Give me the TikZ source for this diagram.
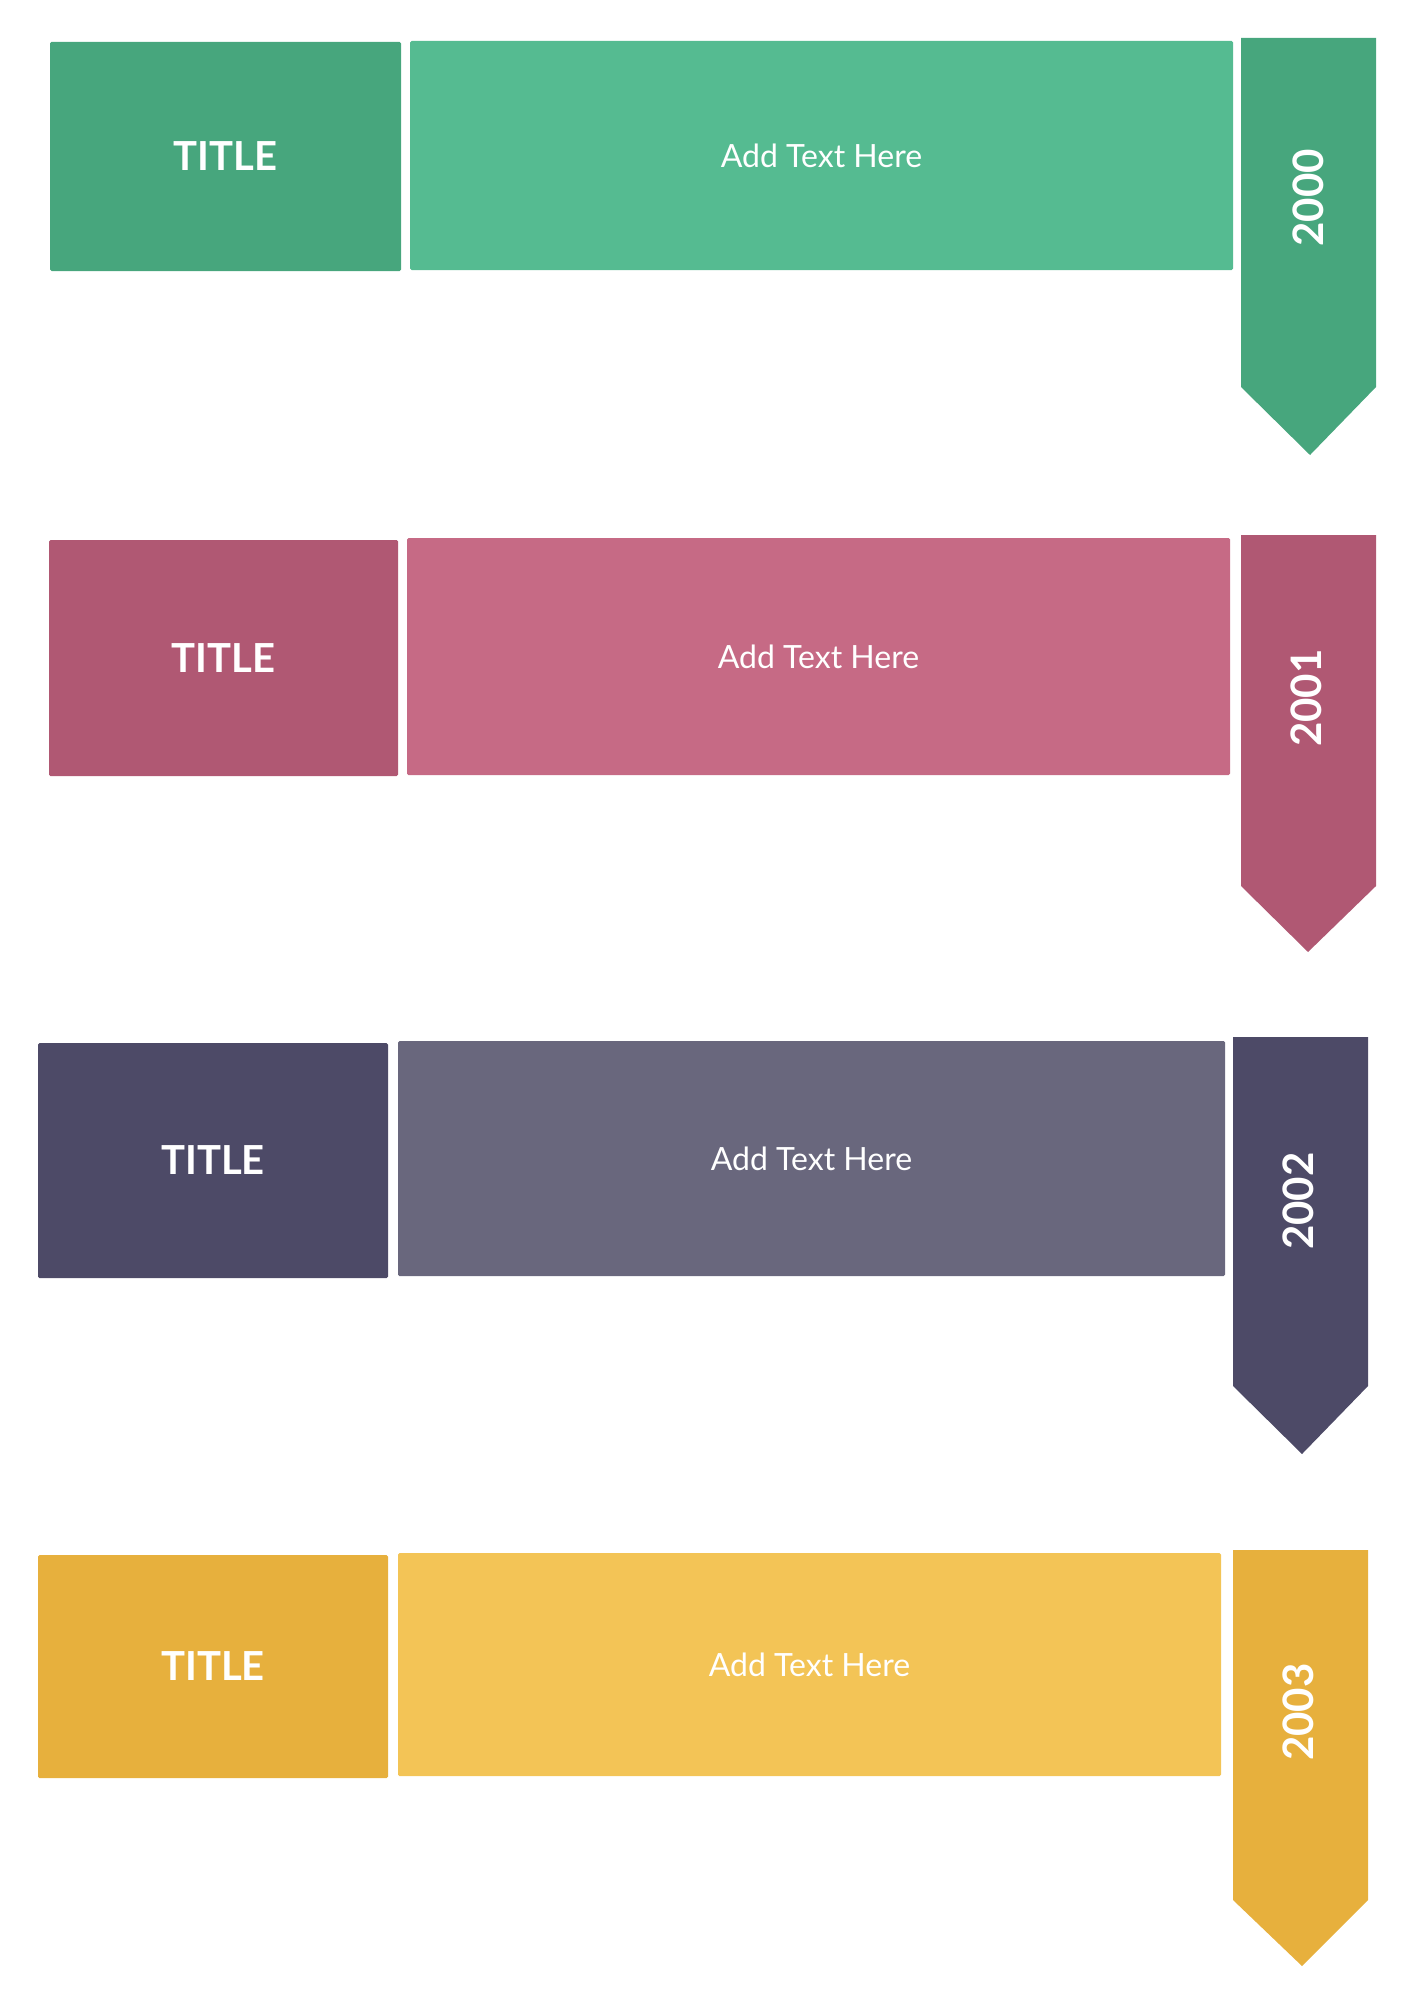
\documentclass[tikz,border=0pt]{standalone}
\usepackage{fontspec}
\setmainfont{Lato}
\begin{document}
\begin{tikzpicture}[x=1pt,y=-1pt,
  boxa/.style={inner sep=0pt,font=\fontsize{40}{44}\selectfont\bfseries,text=white},
  boxb/.style={inner sep=0pt,font=\fontsize{32}{36}\selectfont,text=white},
  yr/.style={rotate=90,font=\fontsize{42}{46}\selectfont\bfseries,text=white}]
\useasboundingbox (0,0) rectangle (1421,2009);
\definecolor{gA}{HTML}{47A67D}\definecolor{gB}{HTML}{55BB91}
\definecolor{pA}{HTML}{B05873}\definecolor{pB}{HTML}{C66A85}
\definecolor{uA}{HTML}{4D4A67}\definecolor{uB}{HTML}{69677D}
\definecolor{yA}{HTML}{E7B03D}\definecolor{yB}{HTML}{F3C456}
% #1 dark #2 light, title box x1 x2 y1 y2, text box x1 x2 y1 y2, arrow x1 x2 top bottom tip, year, yearY, name
\newcommand\myrow[6]{%
}
% Row 1
\fill[gA,rounded corners=1.5] (50,42) rectangle (401,271);
\node[boxa] (t1) at (225.5,156.5) {TITLE};
\fill[gB,rounded corners=1.5] (410,41) rectangle (1233,270);
\node[boxb] (x1) at (821.5,155.5) {Add Text Here};
\fill[gA] (1241,38) -- (1376,38) -- (1376,387) -- (1310,455) -- (1241,387) -- cycle;
\node[yr] (y1) at (1308,198) {2000};
% Row 2
\fill[pA,rounded corners=1.5] (49,540) rectangle (398,776);
\node[boxa] (t2) at (223.5,658) {TITLE};
\fill[pB,rounded corners=1.5] (407,538) rectangle (1230,775);
\node[boxb] (x2) at (818.5,656.5) {Add Text Here};
\fill[pA] (1241,535) -- (1376,535) -- (1376,886) -- (1308,952) -- (1241,886) -- cycle;
\node[yr] (y2) at (1306,698) {2001};
% Row 3
\fill[uA,rounded corners=1.5] (38,1043) rectangle (388,1278);
\node[boxa] (t3) at (213,1160.5) {TITLE};
\fill[uB,rounded corners=1.5] (398,1041) rectangle (1225,1276);
\node[boxb] (x3) at (811.5,1158.5) {Add Text Here};
\fill[uA] (1233,1037) -- (1368,1037) -- (1368,1386) -- (1302,1454) -- (1233,1386) -- cycle;
\node[yr] (y3) at (1298,1201) {2002};
% Row 4
\fill[yA,rounded corners=1.5] (38,1555) rectangle (388,1778);
\node[boxa] (t4) at (213,1666.5) {TITLE};
\fill[yB,rounded corners=1.5] (398,1553) rectangle (1221,1776);
\node[boxb] (x4) at (809.5,1664.5) {Add Text Here};
\fill[yA] (1233,1550) -- (1368,1550) -- (1368,1900) -- (1302,1966) -- (1233,1900) -- cycle;
\node[yr] (y4) at (1298,1712) {2003};
\end{tikzpicture}
\end{document}
